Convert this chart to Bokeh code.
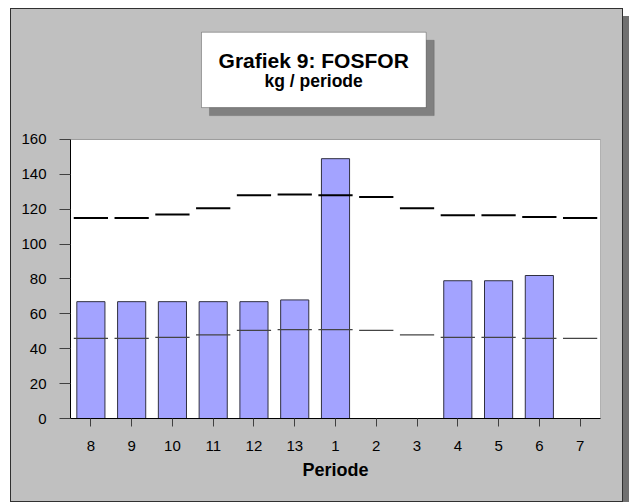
from bokeh.plotting import figure
from bokeh.models import BoxAnnotation, Label, FactorRange, Range1d
from bokeh.embed import file_html
from bokeh.resources import INLINE

# ---- data ----
periods = ["8", "9", "10", "11", "12", "13", "1", "2", "3", "4", "5", "6", "7"]
bar_values = [67, 67, 67, 67, 67, 68, 149, None, None, 79, 79, 82, None]
upper_values = [115, 115, 117, 120.5, 128, 128.5, 128, 127, 120.5, 116.5, 116.5, 115.5, 115]
lower_values = [46, 46, 46.5, 48, 50.5, 51, 51, 50.5, 48, 46.5, 46.5, 46, 46]
y_ticks = [0, 20, 40, 60, 80, 100, 120, 140, 160]
title_line1 = "Grafiek 9: FOSFOR"
title_line2 = "kg / periode"
x_title = "Periode"

FONT = "Liberation Sans"
PANEL = "#c0c0c0"
Y_MAX = 160
Y_TOP = 228.24   # frame extends above the value axis to hold the title box

p = figure(width=611, height=492, output_backend="svg", toolbar_location=None,
           x_range=FactorRange(*periods, range_padding=0), y_range=Range1d(0, Y_TOP))
p.styles = {"margin-left": "11px", "margin-top": "9px",
            "outline": "1px solid #303030",
            "background-color": PANEL,
            "box-shadow": "7px 7px 0px #707070"}
p.min_border_left = 59
p.min_border_right = 22
p.min_border_top = 11
p.min_border_bottom = 83
p.border_fill_color = PANEL
p.background_fill_color = PANEL
p.outline_line_color = None
p.xgrid.grid_line_color = None
p.ygrid.grid_line_color = None

# white plot area with black outline (data units 0..13 x 0..160)
p.add_layout(BoxAnnotation(left=0, right=len(periods), bottom=0, top=Y_MAX,
                           fill_color="white", fill_alpha=1, line_color="black",
                           line_width=1, level="underlay"))

# bars
bx = [c for c, v in zip(periods, bar_values) if v is not None]
bv = [v for v in bar_values if v is not None]
p.vbar(x=bx, top=bv, width=0.69, bottom=0, fill_color="#a3a3ff",
       line_color="#303040", line_width=1)

# level lines
p.rect(x=periods, y=upper_values, width=0.84, height=2, height_units="screen",
       fill_color="black", line_color=None)
p.rect(x=periods, y=lower_values, width=0.84, height=1.3, height_units="screen",
       fill_color="#444444", line_color=None)

# axes
p.yaxis.ticker = y_ticks
p.yaxis.bounds = (0, Y_MAX)
p.yaxis.minor_tick_line_color = None
p.yaxis.major_tick_in = 0
p.yaxis.major_tick_out = 11
p.yaxis.major_tick_line_color = "#404040"
p.yaxis.axis_line_color = "black"
p.yaxis.major_label_text_font = FONT
p.yaxis.major_label_text_font_size = "15px"
p.yaxis.major_label_text_color = "black"
p.yaxis.major_label_standoff = 13

p.xaxis.major_tick_in = 0
p.xaxis.major_tick_out = 8
p.xaxis.major_tick_line_color = "#404040"
p.xaxis.axis_line_color = "black"
p.xaxis.major_label_text_font = FONT
p.xaxis.major_label_text_font_size = "15px"
p.xaxis.major_label_text_color = "black"
p.xaxis.major_label_standoff = 14
p.xaxis.axis_label = x_title
p.xaxis.axis_label_text_font = FONT
p.xaxis.axis_label_text_font_style = "bold"
p.xaxis.axis_label_text_font_size = "18px"
p.xaxis.axis_label_text_color = "black"
p.xaxis.axis_label_standoff = 6

# title box with shadow
p.add_layout(BoxAnnotation(left=3.409, right=8.921, top=216.9, bottom=173.7,
                           fill_color="#808080", fill_alpha=1, line_color="#505050",
                           line_width=1, level="annotation"))
p.add_layout(BoxAnnotation(left=3.213, right=8.724, top=221.5, bottom=178.3,
                           fill_color="white", fill_alpha=1, line_color="black",
                           line_width=1, level="annotation"))
p.add_layout(Label(x=5.965, y=205.5, text=title_line1,
                   text_font=FONT, text_font_style="bold", text_font_size="21px",
                   text_align="center", text_baseline="alphabetic", text_color="black"))
p.add_layout(Label(x=5.965, y=193.3, text=title_line2,
                   text_font=FONT, text_font_style="bold", text_font_size="17.5px",
                   text_align="center", text_baseline="alphabetic", text_color="black"))

open("out.html", "w").write(file_html(p, INLINE))
